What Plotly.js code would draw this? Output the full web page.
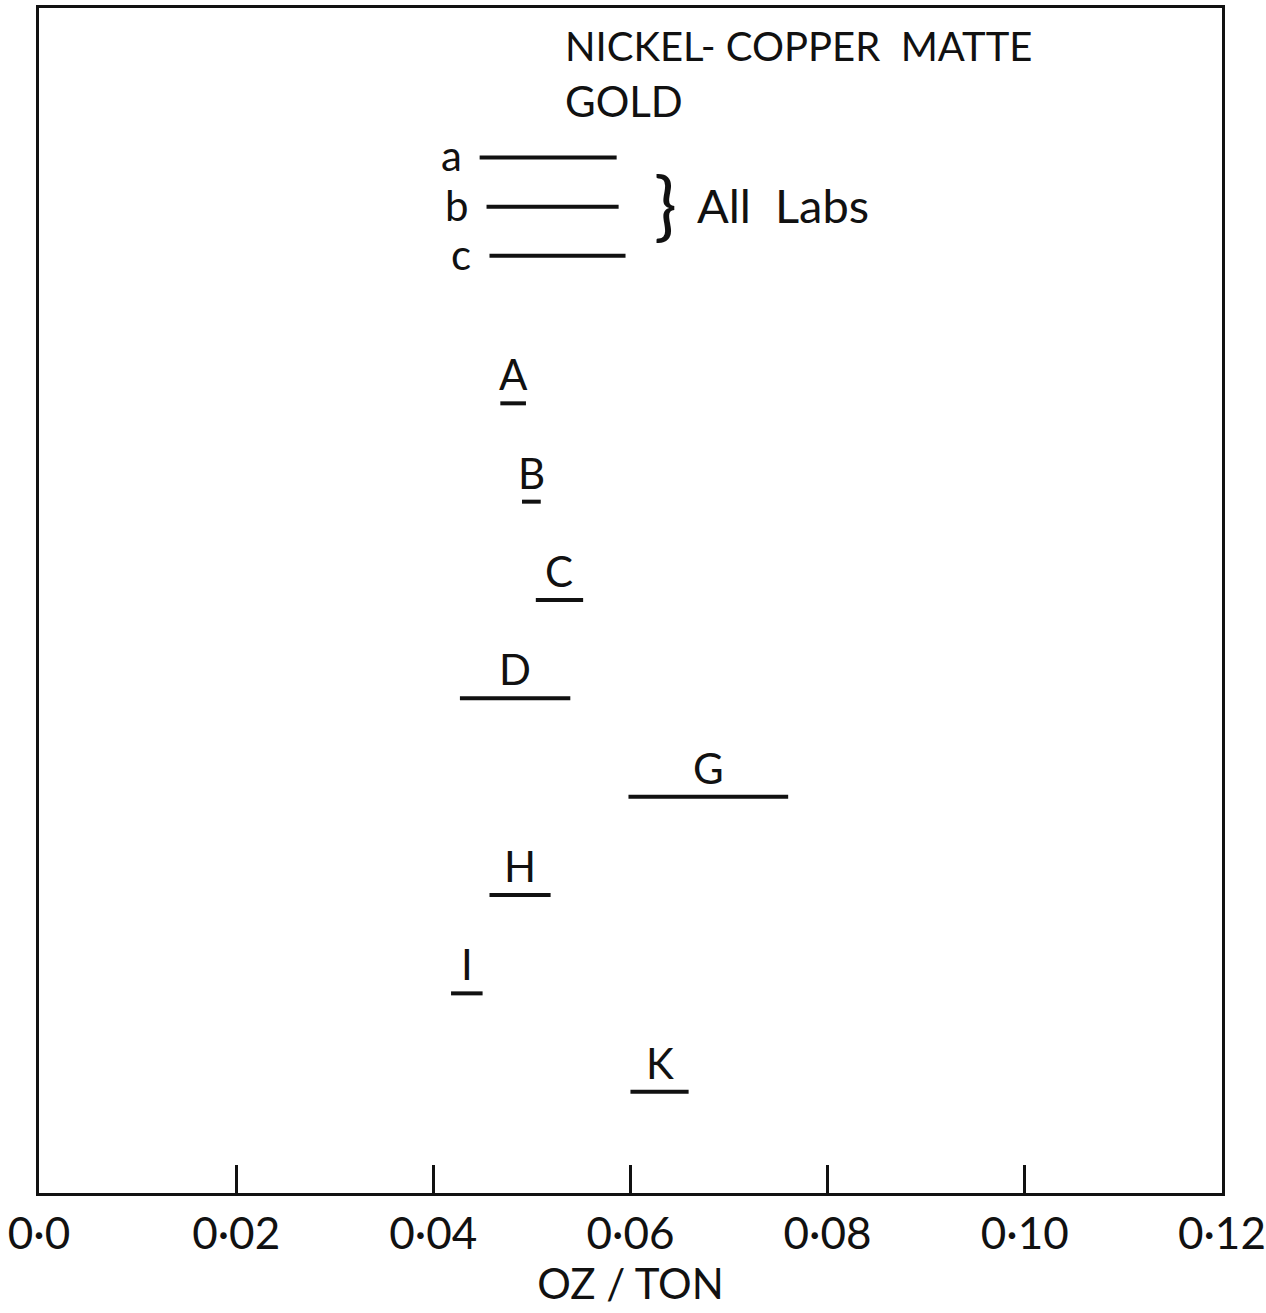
<!DOCTYPE html>
<html>
<head>
<meta charset="utf-8">
<script src="https://cdn.plot.ly/plotly-3.0.1.min.js"></script>
<style>html,body{margin:0;padding:0;background:#fff;}#chart{width:1266px;height:1313px;}</style>
</head>
<body>
<div id="chart"></div>
<script>
// All-labs ranges (legend rows a, b, c)
const allLabRows = ['a', 'b', 'c'];
const allLabLow  = [0.0447, 0.0454, 0.0457];
const allLabHigh = [0.0586, 0.0588, 0.0595];

// Individual laboratory ranges
const labs    = ['A', 'B', 'C', 'D', 'G', 'H', 'I', 'K'];
const labLow  = [0.0468, 0.0490, 0.0504, 0.0427, 0.0598, 0.0457, 0.0418, 0.0600];
const labHigh = [0.0494, 0.0509, 0.0552, 0.0539, 0.0760, 0.0519, 0.0450, 0.0659];

// Axis ticks
const tickVals = [0, 0.02, 0.04, 0.06, 0.08, 0.10, 0.12];
const tickText = ['0·0', '0·02', '0·04', '0·06', '0·08', '0·10', '0·12'];

const FONT = 'Lato, "Open Sans", sans-serif';
const INK = '#111';

// row positions (layout)
const labY = labs.map((_, i) => labs.length - i);          // A=8 ... K=1
const allY = allLabRows.map((_, i) => 10.5 - 0.5 * i);    // a=10.5, b=10, c=9.5

function segs(lo, hi, ys) {
  const x = [], y = [];
  lo.forEach((v, i) => { x.push(v, hi[i], null); y.push(ys[i], ys[i], null); });
  return {x, y};
}
const s1 = segs(labLow, labHigh, labY);
const s2 = segs(allLabLow, allLabHigh, allY);

const traces = [
  {type: 'scatter', mode: 'lines', x: s1.x, y: s1.y, line: {color: INK, width: 4}, hoverinfo: 'skip', showlegend: false, cliponaxis: false},
  {type: 'scatter', mode: 'lines', x: s2.x, y: s2.y, line: {color: INK, width: 4}, hoverinfo: 'skip', showlegend: false, cliponaxis: false}
];

const annotations = [];
labs.forEach((l, i) => {
  annotations.push({
    x: (labLow[i] + labHigh[i]) / 2, y: labY[i], xref: 'x', yref: 'y',
    text: l, showarrow: false, xanchor: 'center', yanchor: 'bottom', yshift: 2,
    font: {family: FONT, size: 42, color: INK}
  });
});
allLabRows.forEach((l, i) => {
  annotations.push({
    x: allLabLow[i], y: allY[i], xref: 'x', yref: 'y',
    text: l, showarrow: false, xanchor: 'right', yanchor: 'middle', xshift: -16, yshift: 2,
    font: {family: FONT, size: 42, color: INK}
  });
});
annotations.push({
  x: 0.0636, y: allY[1], xref: 'x', yref: 'y', text: '}', showarrow: false,
  xanchor: 'center', yanchor: 'middle', yshift: 4,
  font: {family: FONT, size: 76, color: INK}
});
annotations.push({
  x: 0.0665, y: allY[1], xref: 'x', yref: 'y', text: 'All  Labs', showarrow: false,
  xanchor: 'left', yanchor: 'middle', yshift: 2,
  font: {family: FONT, size: 47, color: INK}
});
annotations.push({
  x: 0.0532, y: 1, xref: 'x', yref: 'paper', text: 'NICKEL- COPPER  MATTE', showarrow: false,
  xanchor: 'left', yanchor: 'top', yshift: -12,
  font: {family: FONT, size: 40, color: INK}
});
annotations.push({
  x: 0.0532, y: 1, xref: 'x', yref: 'paper', text: 'GOLD', showarrow: false,
  xanchor: 'left', yanchor: 'top', yshift: -66,
  font: {family: FONT, size: 42, color: INK}
});

const layout = {
  width: 1266, height: 1313,
  margin: {l: 39, r: 44, t: 8, b: 120},
  paper_bgcolor: '#fff', plot_bgcolor: '#fff',
  showlegend: false,
  xaxis: {
    range: [0, 0.12001], tickvals: tickVals, ticktext: tickText,
    ticks: 'inside', ticklen: 28, tickwidth: 3, tickcolor: INK,
    showgrid: false, zeroline: false,
    showline: true, linecolor: INK, linewidth: 3, mirror: true,
    tickfont: {family: FONT, size: 44, color: INK},
    title: {text: 'OZ / TON', font: {family: FONT, size: 42, color: INK}, standoff: 6},
    fixedrange: true
  },
  yaxis: {
    range: [-0.03, 12.02], showticklabels: false, ticks: '', showgrid: false, zeroline: false,
    showline: true, linecolor: INK, linewidth: 3, mirror: true, fixedrange: true
  },
  annotations: annotations
};

Plotly.newPlot('chart', traces, layout, {displayModeBar: false, staticPlot: true});
</script>
</body>
</html>
